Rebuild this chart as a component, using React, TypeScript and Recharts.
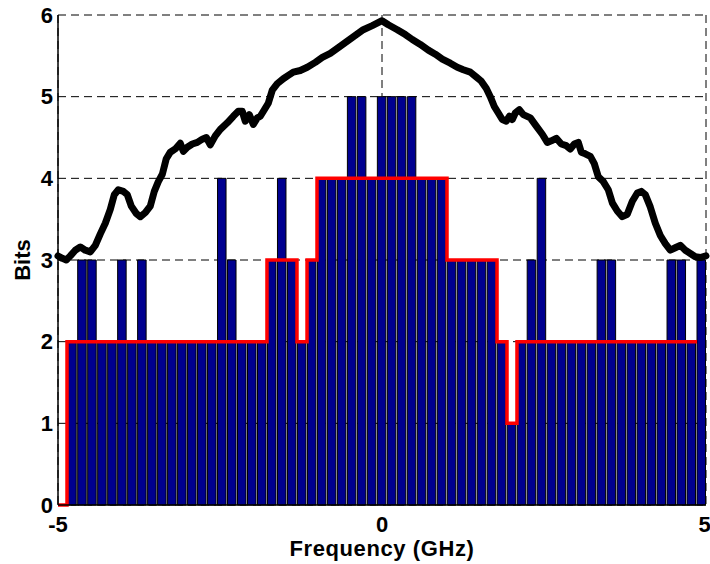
import React from 'react';
import { ComposedChart, Bar, Line, XAxis, YAxis, CartesianGrid } from 'recharts';

// Bar centre frequencies (GHz)
const freqs = [
  -4.784, -4.630, -4.475, -4.321, -4.167, -4.012, -3.858, -3.704, -3.549, -3.395,
  -3.241, -3.086, -2.932, -2.778, -2.623, -2.469, -2.315, -2.160, -2.006, -1.852,
  -1.698, -1.543, -1.389, -1.235, -1.080, -0.926, -0.772, -0.617, -0.463, -0.309,
  -0.154, 0.0, 0.154, 0.309, 0.463, 0.617, 0.772, 0.926, 1.080, 1.235,
  1.389, 1.543, 1.698, 1.852, 2.006, 2.160, 2.315, 2.469, 2.623, 2.778,
  2.932, 3.086, 3.241, 3.395, 3.549, 3.704, 3.858, 4.012, 4.167, 4.321,
  4.475, 4.630, 4.784, 4.938,
];

// Bits allocated per bin
const bits = [
  2, 3, 3, 2, 2, 3, 2, 3, 2, 2,
  2, 2, 2, 2, 2, 4, 3, 2, 2, 2,
  3, 4, 3, 2, 3, 4, 4, 4, 5, 5,
  4, 5, 5, 5, 5, 4, 4, 4, 3, 3,
  3, 3, 3, 2, 1, 2, 3, 4, 2, 2,
  2, 2, 2, 3, 3, 2, 2, 2, 2, 2,
  3, 3, 2, 3,
];

// Red stair envelope
const stairX = [-5, -4.861, -1.775, -1.312, -1.157, -1.003, 1.003, 1.775, 1.929, 2.083, 4.861];
const stairY = [0, 2, 3, 2, 3, 4, 3, 2, 1, 2, 2];

// Black curve
const curveX = [
  -5.0, -4.934, -4.872, -4.810, -4.733, -4.656, -4.579, -4.502, -4.424, -4.347,
  -4.270, -4.193, -4.131, -4.069, -3.992, -3.931, -3.869, -3.792, -3.730, -3.653,
  -3.576, -3.514, -3.452, -3.390, -3.329, -3.267, -3.190, -3.113, -3.066, -3.005,
  -2.927, -2.850, -2.773, -2.711, -2.650, -2.573, -2.495, -2.387, -2.295, -2.218,
  -2.156, -2.110, -2.048, -1.986, -1.924, -1.878, -1.816, -1.755, -1.693, -1.616,
  -1.523, -1.446, -1.369, -1.261, -1.153, -1.029, -0.921, -0.798, -0.674, -0.535,
  -0.412, -0.289, -0.150, 0.0, 0.097, 0.236, 0.360, 0.468, 0.591, 0.715,
  0.823, 0.931, 1.054, 1.162, 1.255, 1.363, 1.455, 1.532, 1.610, 1.671,
  1.733, 1.795, 1.856, 1.918, 1.965, 2.011, 2.057, 2.119, 2.181, 2.289,
  2.381, 2.474, 2.551, 2.613, 2.690, 2.767, 2.844, 2.906, 2.968, 3.029,
  3.076, 3.137, 3.215, 3.276, 3.338, 3.415, 3.492, 3.554, 3.631, 3.708,
  3.785, 3.863, 3.940, 4.002, 4.063, 4.140, 4.218, 4.295, 4.372, 4.449,
  4.526, 4.603, 4.681, 4.758, 4.835, 4.912, 5.0,
];
const curveY = [
  3.05, 3.02, 3.0, 3.05, 3.12, 3.16, 3.12, 3.1, 3.18, 3.32,
  3.45, 3.62, 3.8, 3.86, 3.84, 3.8, 3.66, 3.57, 3.53, 3.58,
  3.66, 3.84, 3.96, 4.05, 4.24, 4.32, 4.36, 4.43, 4.33, 4.38,
  4.42, 4.44, 4.48, 4.5, 4.41, 4.52, 4.6, 4.68, 4.76, 4.82,
  4.82, 4.7, 4.78, 4.66, 4.74, 4.76, 4.84, 4.92, 5.08, 5.16,
  5.22, 5.26, 5.3, 5.32, 5.36, 5.42, 5.48, 5.53, 5.6, 5.68,
  5.75, 5.82, 5.87, 5.93, 5.88, 5.82, 5.76, 5.7, 5.64, 5.57,
  5.52, 5.46, 5.41, 5.36, 5.33, 5.3, 5.24, 5.19, 5.1, 5.0,
  4.88, 4.8, 4.72, 4.7, 4.76, 4.72, 4.8, 4.84, 4.78, 4.74,
  4.64, 4.54, 4.44, 4.46, 4.49, 4.42, 4.4, 4.36, 4.42, 4.44,
  4.32, 4.3, 4.27, 4.18, 4.02, 3.96, 3.86, 3.7, 3.6, 3.53,
  3.56, 3.72, 3.82, 3.84, 3.8, 3.65, 3.45, 3.3, 3.2, 3.12,
  3.15, 3.18, 3.12, 3.08, 3.04, 3.03, 3.05,
];

const xTicks = [-5, 0, 5];
const yTicks = [0, 1, 2, 3, 4, 5, 6];

const barData = freqs.map((x, i) => ({ x, bits: bits[i] }));
const stairData = stairX.map((x, i) => ({ x, level: stairY[i] }));
const curveData = curveX.map((x, i) => ({ x, y: curveY[i] }));

const FONT = '"Liberation Sans", Arial, Helvetica, sans-serif';
const tickStyle = { fontFamily: FONT, fontSize: 22, fontWeight: 'bold', fill: '#000' };

const XLabel = (props: any) => {
  const vb = props.viewBox || {};
  return (
    <text x={vb.x + vb.width / 2} y={556} textAnchor="middle" style={{ ...tickStyle, letterSpacing: 0.6 }}>
      Frequency (GHz)
    </text>
  );
};

const YLabel = (props: any) => {
  const vb = props.viewBox || {};
  const cy = vb.y + vb.height / 2;
  return (
    <text x={30} y={cy} textAnchor="middle" transform={`rotate(-90, 30, ${cy})`} style={tickStyle}>
      Bits
    </text>
  );
};

export default function App() {
  return (
    <div style={{ position: 'absolute', left: 0, top: 0, width: 710, height: 564, background: '#fff' }}>
      <ComposedChart
        width={710}
        height={564}
        data={barData}
        margin={{ top: 15, right: 4, bottom: 29, left: 0 }}
        barCategoryGap={0}
      >
        <CartesianGrid
          xAxisId="b"
          yAxisId="l"
          stroke="#000"
          strokeDasharray="8 5"
          strokeWidth={1}
        />
        <XAxis
          xAxisId="b"
          dataKey="x"
          type="number"
          domain={[-5, 5]}
          ticks={xTicks}
          tick={tickStyle}
          tickLine={false}
          tickSize={0}
          tickMargin={11}
          height={30}
          axisLine={{ stroke: '#000', strokeWidth: 1.5 }}
          label={<XLabel />}
        />
        <XAxis
          xAxisId="cat"
          dataKey="x"
          type="category"
          hide
          padding={{ left: 8.7, right: 0 }}
        />
        <XAxis
          xAxisId="t"
          orientation="top"
          dataKey="x"
          type="number"
          domain={[-5, 5]}
          ticks={xTicks}
          tick={false}
          tickLine={false}
          height={0}
          axisLine={{ stroke: '#000', strokeWidth: 1.5 }}
        />
        <YAxis
          yAxisId="l"
          type="number"
          domain={[0, 6]}
          ticks={yTicks}
          tick={tickStyle}
          tickLine={false}
          tickSize={0}
          tickMargin={5}
          width={58}
          axisLine={{ stroke: '#000', strokeWidth: 1.5 }}
          label={<YLabel />}
        />
        <YAxis
          yAxisId="r"
          orientation="right"
          type="number"
          domain={[0, 6]}
          ticks={yTicks}
          tick={false}
          tickLine={false}
          width={0}
          axisLine={{ stroke: '#000', strokeWidth: 1.5 }}
        />
        <Bar
          xAxisId="cat"
          yAxisId="l"
          dataKey="bits"
          fill="#00008f"
          stroke="#000"
          strokeWidth={1}
          barSize={8.5}
          isAnimationActive={false}
        />
        <Line
          xAxisId="b"
          yAxisId="l"
          data={stairData}
          dataKey="level"
          type="stepAfter"
          stroke="#ff0000"
          strokeWidth={3.5}
          dot={false}
          activeDot={false}
          isAnimationActive={false}
        />
        <Line
          xAxisId="b"
          yAxisId="l"
          data={curveData}
          dataKey="y"
          type="linear"
          stroke="#000"
          strokeWidth={7}
          strokeLinejoin="round"
          strokeLinecap="round"
          dot={false}
          activeDot={false}
          isAnimationActive={false}
        />
      </ComposedChart>
    </div>
  );
}
